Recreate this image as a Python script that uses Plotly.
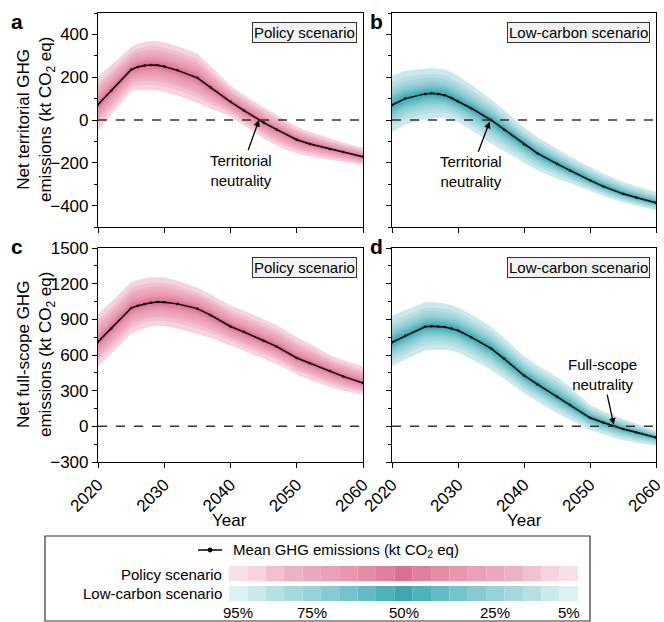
import plotly.graph_objects as go

W, H = 664, 622

# ---------------- data ----------------
years = [2020, 2022, 2025, 2026, 2027, 2028, 2029, 2030, 2032, 2035,
         2037, 2040, 2042, 2045, 2047, 2050, 2052, 2055, 2057, 2060]

# a: policy scenario, territorial
mean_a = [72, 137, 235, 248, 255, 257, 256, 250, 232, 197, 152, 85, 45, -12, -45, -92, -112, -135, -150, -172]
up_a = [130, 120, 105, 108, 110, 112, 112, 113, 114, 113, 100, 75, 73, 72, 70, 62, 57, 48, 45, 42]
lo_a = [122, 112, 100, 108, 114, 118, 118, 118, 118, 118, 100, 68, 70, 75, 77, 65, 60, 52, 45, 38]

# b: low-carbon scenario, territorial
mean_b = [70, 100, 122, 125, 122, 116, 103, 87, 55, 0, -45, -113, -155, -205, -237, -282, -310, -345, -362, -387]
up_b = [138, 130, 118, 117, 118, 119, 120, 120, 110, 97, 90, 78, 75, 70, 67, 62, 60, 55, 53, 50]
lo_b = [125, 122, 120, 120, 112, 105, 100, 95, 100, 110, 100, 86, 80, 68, 58, 48, 45, 40, 38, 35]

# c: policy scenario, full-scope
mean_c = [710, 822, 995, 1015, 1030, 1040, 1045, 1043, 1030, 990, 935, 840, 795, 720, 670, 575, 530, 465, 420, 365]
up_c = [235, 225, 220, 218, 215, 212, 210, 210, 195, 175, 175, 177, 178, 180, 180, 175, 165, 135, 135, 140]
lo_c = [205, 210, 215, 212, 205, 200, 198, 200, 208, 215, 190, 160, 155, 150, 145, 140, 140, 135, 120, 100]

# d: low-carbon scenario, full-scope
mean_d = [707, 762, 838, 842, 840, 835, 822, 806, 750, 655, 568, 428, 355, 250, 180, 72, 32, -22, -50, -94]
up_d = [225, 215, 205, 203, 200, 198, 197, 195, 190, 185, 175, 162, 160, 165, 150, 110, 95, 85, 72, 60]
lo_d = [200, 200, 200, 198, 195, 190, 187, 185, 183, 180, 170, 150, 145, 140, 125, 100, 98, 95, 85, 70]

# quantile bands (95/5, 90/10, ... 55/45) relative to the 95/5 spread
band_levels = [95, 90, 85, 80, 75, 70, 65, 60, 55]
band_frac = [1.0, 0.779, 0.630, 0.512, 0.410, 0.319, 0.234, 0.154, 0.077]

# legend colour cells, 95% -> 50%
policy_colors = ["#F9E0E8", "#F6D3DE", "#F2C1D0", "#EEB0C3", "#ECA7BC",
                 "#EAA0B6", "#E897AF", "#E48DA7", "#E07F9D", "#DC6F92"]
lowc_colors = ["#DDF0F3", "#CCE8EC", "#B7E0E4", "#A5D8DD", "#97D2D8",
               "#87CBD1", "#76C4CB", "#61BBC3", "#4CB3BB", "#3EA8B0"]
pct_labels = ["95%", "75%", "50%", "25%", "5%"]
pct_label_cells = [0, 4, 9, 14, 18]

FONT = "Arial, Liberation Sans, sans-serif"


def px(x):
    return x / W


def py(y):
    return 1 - y / H


panels = [
    dict(letter="a", xa="x", ya="y", mean=mean_a, up=up_a, lo=lo_a, colors=policy_colors,
         box="Policy scenario"),
    dict(letter="b", xa="x2", ya="y2", mean=mean_b, up=up_b, lo=lo_b, colors=lowc_colors,
         box="Low-carbon scenario"),
    dict(letter="c", xa="x3", ya="y3", mean=mean_c, up=up_c, lo=lo_c, colors=policy_colors,
         box="Policy scenario"),
    dict(letter="d", xa="x4", ya="y4", mean=mean_d, up=up_d, lo=lo_d, colors=lowc_colors,
         box="Low-carbon scenario"),
]

fig = go.Figure()

for p in panels:
    for k, f in enumerate(band_frac):
        upper = [m + f * u for m, u in zip(p["mean"], p["up"])]
        lower = [m - f * l for m, l in zip(p["mean"], p["lo"])]
        fig.add_trace(go.Scatter(
            x=years + years[::-1], y=upper + lower[::-1],
            fill="toself", fillcolor=p["colors"][k + 1], line=dict(width=0),
            mode="lines", hoverinfo="skip", showlegend=False,
            xaxis=p["xa"], yaxis=p["ya"]))
    fig.add_trace(go.Scatter(
        x=years, y=p["mean"], mode="lines+markers",
        line=dict(color="black", width=1.5), marker=dict(color="black", size=2.5),
        showlegend=False, xaxis=p["xa"], yaxis=p["ya"]))

x_left = [px(98), px(363)]
x_right = [px(392), px(656)]
y_top = [py(227), py(13)]
y_bot = [py(462), py(248)]

common_axis = dict(showline=True, linecolor="black", linewidth=1.2, mirror=True,
                   ticks="outside", ticklen=5, tickwidth=1.2, tickcolor="black",
                   showgrid=False, zeroline=False, automargin=False,
                   ticklabeloverflow="allow",
                   tickfont=dict(family=FONT, size=17, color="black"))

xcommon = dict(common_axis, range=[2020, 2060], dtick=10, tick0=2020, tickangle=-45)
terr_y = dict(common_axis, range=[-500, 500], dtick=200, tick0=0,
              minor=dict(dtick=100, ticklen=3, tickwidth=1.2, tickcolor="black", ticks="outside"))
full_y = dict(common_axis, range=[-300, 1500], dtick=300, tick0=0,
              minor=dict(dtick=150, ticklen=3, tickwidth=1.2, tickcolor="black", ticks="outside"))

fig.update_layout(
    width=W, height=H, margin=dict(l=0, r=0, t=0, b=0, autoexpand=False),
    paper_bgcolor="white", plot_bgcolor="white",
    font=dict(family=FONT, color="black"),
    xaxis=dict(xcommon, domain=x_left, anchor="y", showticklabels=False),
    yaxis=dict(terr_y, domain=y_top, anchor="x"),
    xaxis2=dict(xcommon, domain=x_right, anchor="y2", showticklabels=False),
    yaxis2=dict(terr_y, domain=y_top, anchor="x2", showticklabels=False),
    xaxis3=dict(xcommon, domain=x_left, anchor="y3"),
    yaxis3=dict(full_y, domain=y_bot, anchor="x3"),
    xaxis4=dict(xcommon, domain=x_right, anchor="y4"),
    yaxis4=dict(full_y, domain=y_bot, anchor="x4", showticklabels=False),
)

shapes = []
annotations = []


def txt(x, y, text, size=15, xanchor="center", yanchor="middle", **kw):
    d = dict(xref="paper", yref="paper", x=px(x), y=py(y), text=text,
             showarrow=False, xanchor=xanchor, yanchor=yanchor,
             font=dict(family=FONT, size=size, color="black"))
    d.update(kw)
    return d


for p in panels:
    shapes.append(dict(type="line", xref=p["xa"] + " domain", yref=p["ya"],
                       x0=0, x1=1, y0=0, y1=0,
                       line=dict(color="#333333", width=1.5, dash="dash")))
    annotations.append(dict(xref=p["xa"] + " domain", yref=p["ya"] + " domain",
                            x=0.977, y=0.958, xanchor="right", yanchor="top",
                            text=p["box"], showarrow=False,
                            font=dict(family=FONT, size=15, color="black"),
                            bgcolor="#F2F2F2", bordercolor="#333333", borderwidth=1,
                            borderpad=1))

# panel letters
for letter, x, y in [("a", 17, 22), ("b", 377, 22), ("c", 17, 247), ("d", 377, 247)]:
    annotations.append(txt(x, y, "<b>%s</b>" % letter, size=21))

# y-axis titles
annotations.append(txt(36, 120, "Net territorial GHG<br>emissions (kt CO<sub>2</sub> eq)",
                       size=17, textangle=-90))
annotations.append(txt(36, 355, "Net full-scope GHG<br>emissions (kt CO<sub>2</sub> eq)",
                       size=17, textangle=-90))
# x-axis titles
for xc in (230, 524):
    annotations.append(txt(xc, 520, "Year", size=17))

# neutrality annotations
arrow_font = dict(family=FONT, size=15, color="black")
annotations.append(dict(xref="x", yref="y", x=2044.3, y=0, ax=-18, ay=50,
                        text="Territorial<br>neutrality", showarrow=True,
                        arrowhead=2, arrowsize=1, arrowwidth=1.3, arrowcolor="black",
                        font=arrow_font))
annotations.append(dict(xref="x2", yref="y2", x=2034.8, y=-8, ax=-19, ay=50,
                        text="Territorial<br>neutrality", showarrow=True,
                        arrowhead=2, arrowsize=1, arrowwidth=1.3, arrowcolor="black",
                        font=arrow_font))
annotations.append(dict(xref="x4", yref="y4", x=2053.6, y=15, ax=-11, ay=-50,
                        text="Full-scope<br>neutrality", showarrow=True,
                        arrowhead=2, arrowsize=1, arrowwidth=1.3, arrowcolor="black",
                        font=arrow_font))

# ---------------- legend box ----------------
shapes.append(dict(type="rect", xref="paper", yref="paper",
                   x0=px(45), x1=px(590), y0=py(621), y1=py(536),
                   line=dict(color="#333333", width=1.2), fillcolor="rgba(0,0,0,0)"))
shapes.append(dict(type="line", xref="paper", yref="paper",
                   x0=px(198), x1=px(222), y0=py(550), y1=py(550),
                   line=dict(color="black", width=1.5)))
shapes.append(dict(type="circle", xref="paper", yref="paper",
                   x0=px(208), x1=px(212), y0=py(552), y1=py(548),
                   line=dict(color="black", width=1), fillcolor="black"))
annotations.append(txt(231, 550, "Mean GHG emissions (kt CO<sub>2</sub> eq)", xanchor="left"))
annotations.append(txt(224, 574, "Policy scenario", xanchor="right"))
annotations.append(txt(224, 593, "Low-carbon scenario", xanchor="right"))

cell_x0, cell_x1 = 229, 578
n_cells = 19
cw = (cell_x1 - cell_x0) / n_cells
for colors, y0, y1 in [(policy_colors, 566, 581), (lowc_colors, 586, 601)]:
    seq = colors + colors[:-1][::-1]
    for i, c in enumerate(seq):
        shapes.append(dict(type="rect", xref="paper", yref="paper",
                           x0=px(cell_x0 + i * cw), x1=px(cell_x0 + (i + 1) * cw),
                           y0=py(y1), y1=py(y0), line=dict(width=0), fillcolor=c))
for lab, ci in zip(pct_labels, pct_label_cells):
    annotations.append(txt(cell_x0 + (ci + 0.5) * cw, 612, lab))

fig.update_layout(shapes=shapes, annotations=annotations)
fig.write_html("out.html", config={"displayModeBar": False},
               post_script="document.body.style.margin='0';")
